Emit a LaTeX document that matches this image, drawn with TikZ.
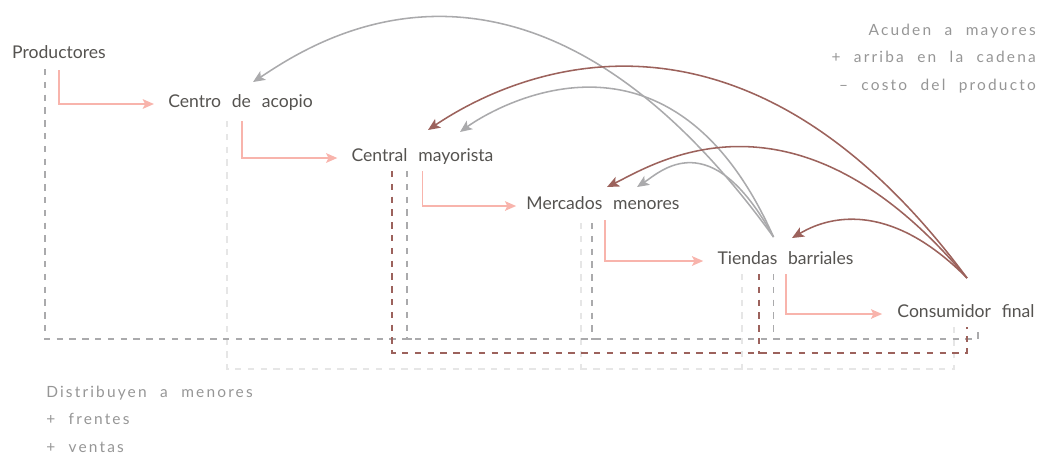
\documentclass[tikz,border=0pt]{standalone}
\usepackage{fontspec}
\setmainfont{Lato}
\newfontfamily\etiqfont[WordSpace=2.4]{Lato}
\newfontfamily\notafont[LetterSpace=14,WordSpace=2.2]{Lato}
\usepackage{tikz}
\usetikzlibrary{arrows.meta, calc}
\definecolor{rosa}{RGB}{248,180,172}
\definecolor{cafe}{RGB}{156,98,92}
\definecolor{gris}{RGB}{170,170,172}
\definecolor{grisclaro}{RGB}{230,230,230}
\definecolor{texto}{RGB}{85,83,80}
\definecolor{nota}{RGB}{150,150,150}
\tikzset{actor/.style={anchor=base, inner sep=0pt, text=texto,
    font=\etiqfont\fontsize{12.5}{15}\selectfont},
  notas/.style={inner sep=0pt, text=nota, font=\notafont\fontsize{11}{19.5}\selectfont},
  flujo/.style={rosa, line width=1.3pt, -{Stealth[length=2.8mm, width=2.4mm, inset=0.6mm]}},
  lineagris/.style={gris, line width=0.9pt, dash pattern=on 1.6mm off 1.6mm},
  lineacafe/.style={cafe, line width=0.9pt, dash pattern=on 1.6mm off 1.6mm},
  lineaclara/.style={grisclaro, line width=0.9pt, dash pattern=on 1.6mm off 1.6mm},
  vuelvegris/.style={gris, line width=1.1pt, -{Stealth[length=3mm, width=2.6mm, inset=0.7mm]}},
  vuelvecafe/.style={cafe, line width=1.1pt, -{Stealth[length=3mm, width=2.6mm, inset=0.7mm]}}}

\begin{document}
\begin{tikzpicture}[x=0.25mm, y=-0.25mm]
\useasboundingbox (0,0) rectangle (1038,454);
% cadena
\node[actor] (prod) at (59,58) {Productores};
\node[actor] (acopio) at (240.5,107) {Centro de acopio};
\node[actor] (central) at (422.5,161) {Central mayorista};
\node[actor] (mercados) at (603,209) {Mercados menores};
\node[actor] (tiendas) at (785.5,264) {Tiendas barriales};
\node[actor] (consumidor) at (966,317) {Consumidor final};
% lineas punteadas hacia el consumidor
\coordinate (lfondo) at ($(consumidor.base)+(-12,52)$);
\coordinate (gfondo) at ($(consumidor.base)+(12,22)$);
\coordinate (cfondo) at ($(consumidor.base)+(1,36)$);
\coordinate (l2) at ($(mercados.base)+(-22,14)$);
\coordinate (l3) at ($(tiendas.base)+(-43.5,10)$);
\coordinate (g2) at ($(central.base)+(-15.5,10)$);
\coordinate (g3) at ($(mercados.base)+(-11,14)$);
\coordinate (g4) at ($(tiendas.base)+(-12,10)$);
\coordinate (c2) at ($(tiendas.base)+(-26.5,10)$);
\draw[lineaclara] ($(acopio.base)+(-13.5,14)$) |- (lfondo) -- ($(consumidor.base)+(-12,10)$);
\draw[lineaclara] (l2) |- ($(l2 |- lfondo)+(5,0)$);
\draw[lineaclara] (l3) |- ($(l3 |- lfondo)+(5,0)$);
\draw[lineagris] ($(prod.base)+(-14,11)$) |- (gfondo) -- ($(consumidor.base)+(12,10)$);
\draw[lineagris] (g2) |- ($(g2 |- gfondo)+(5,0)$);
\draw[lineagris] (g3) |- ($(g3 |- gfondo)+(5,0)$);
\draw[lineagris] (g4) |- ($(g4 |- gfondo)+(5,0)$);
\draw[lineacafe] ($(central.base)+(-30.5,10)$) |- (cfondo) -- ($(consumidor.base)+(1,10)$);
\draw[lineacafe] (c2) |- ($(c2 |- cfondo)+(5,0)$);
% flujo del producto
\draw[flujo] ($(prod.base)+(0,12)$) |- ($(acopio.base west)+(-14,-3)$);
\draw[flujo] ($(acopio.base)+(1.5,14)$) |- ($(central.base west)+(-14,-3)$);
\draw[flujo] ($(central.base)+(0,10)$) |- ($(mercados.base west)+(-10,-3)$);
\draw[flujo] ($(mercados.base)+(2,11)$) |- ($(tiendas.base west)+(-14,-3)$);
\draw[flujo] ($(tiendas.base)+(0.5,10)$) |- ($(consumidor.base west)+(-15,-3)$);
% tiendas acuden a mayores
\coordinate (gsrc) at ($(tiendas.base)+(-12,-27)$);
\draw[vuelvegris] (gsrc) .. controls +(-249,-345) and +(54,-35) .. ($(acopio.base)+(12.5,-25)$);
\draw[vuelvegris] (gsrc) .. controls +(-104,-234) and +(33,-24) .. ($(central.base)+(37.5,-29)$);
\draw[vuelvegris] (gsrc) .. controls +(-63,-115) and +(23,-15) .. ($(mercados.base)+(34,-22)$);
% consumidor acude a mayores
\coordinate (bsrc) at ($(consumidor.base)+(1,-39)$);
\draw[vuelvecafe] (bsrc) .. controls +(-245,-331) and +(52,-35) .. ($(central.base)+(5.5,-31)$);
\draw[vuelvecafe] (bsrc) .. controls +(-172,-205) and +(47,-23) .. ($(mercados.base)+(4,-22)$);
\draw[vuelvecafe] (bsrc) .. controls +(-90,-91) and +(19,-11) .. ($(tiendas.base)+(6.5,-26)$);
% notas
\node[notas, align=right, anchor=base east] (mayores) at (1036,90) {Acuden a mayores\\+ arriba en la cadena\\– costo del producto};
\node[notas, align=left, anchor=base west] (menores) at (46,452) {Distribuyen a menores\\+ frentes\\+ ventas};
\end{tikzpicture}
\end{document}
